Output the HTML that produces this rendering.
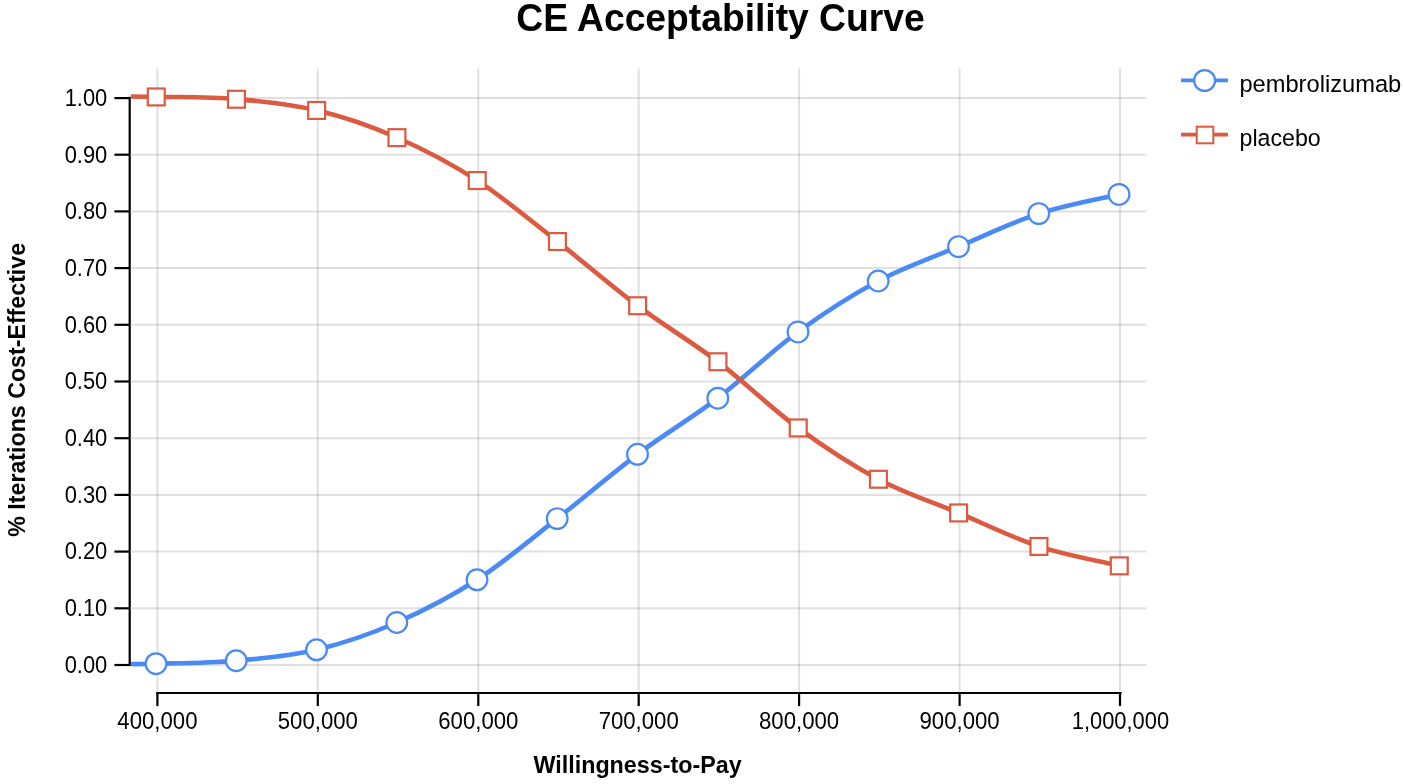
<!DOCTYPE html><html><head><meta charset="utf-8"><title>CE Acceptability Curve</title>
<style>html,body{margin:0;padding:0;background:#fff}svg{display:block}text{font-family:"Liberation Sans",Arial,sans-serif;fill:#000}.b{font-weight:bold}</style></head><body>
<svg width="1403" height="784" viewBox="0 0 1403 784">
<rect width="1403" height="784" fill="#fff"/>
<defs><clipPath id="c"><rect x="131" y="60" width="1020" height="640"/></clipPath></defs>
<g stroke="#000" stroke-opacity="0.12" stroke-width="2"><line x1="157.4" x2="157.4" y1="68.5" y2="691.5"/><line x1="317.8" x2="317.8" y1="68.5" y2="691.5"/><line x1="478.3" x2="478.3" y1="68.5" y2="691.5"/><line x1="638.7" x2="638.7" y1="68.5" y2="691.5"/><line x1="799.1" x2="799.1" y1="68.5" y2="691.5"/><line x1="959.6" x2="959.6" y1="68.5" y2="691.5"/><line x1="1120.0" x2="1120.0" y1="68.5" y2="691.5"/><line x1="131.8" x2="1146.3" y1="665.0" y2="665.0"/><line x1="131.8" x2="1146.3" y1="608.3" y2="608.3"/><line x1="131.8" x2="1146.3" y1="551.6" y2="551.6"/><line x1="131.8" x2="1146.3" y1="494.9" y2="494.9"/><line x1="131.8" x2="1146.3" y1="438.2" y2="438.2"/><line x1="131.8" x2="1146.3" y1="381.5" y2="381.5"/><line x1="131.8" x2="1146.3" y1="324.8" y2="324.8"/><line x1="131.8" x2="1146.3" y1="268.1" y2="268.1"/><line x1="131.8" x2="1146.3" y1="211.4" y2="211.4"/><line x1="131.8" x2="1146.3" y1="154.7" y2="154.7"/><line x1="131.8" x2="1146.3" y1="98.1" y2="98.1"/></g>
<g stroke="#000" stroke-width="2.2"><line x1="129.7" x2="129.7" y1="96.8" y2="666.1"/><line x1="114.4" x2="129.7" y1="665.0" y2="665.0"/><line x1="114.4" x2="129.7" y1="608.3" y2="608.3"/><line x1="114.4" x2="129.7" y1="551.6" y2="551.6"/><line x1="114.4" x2="129.7" y1="494.9" y2="494.9"/><line x1="114.4" x2="129.7" y1="438.2" y2="438.2"/><line x1="114.4" x2="129.7" y1="381.5" y2="381.5"/><line x1="114.4" x2="129.7" y1="324.8" y2="324.8"/><line x1="114.4" x2="129.7" y1="268.1" y2="268.1"/><line x1="114.4" x2="129.7" y1="211.4" y2="211.4"/><line x1="114.4" x2="129.7" y1="154.7" y2="154.7"/><line x1="114.4" x2="129.7" y1="98.1" y2="98.1"/><line x1="156.2" x2="1121.5" y1="693" y2="693"/><line x1="157.4" x2="157.4" y1="693" y2="706.1"/><line x1="317.8" x2="317.8" y1="693" y2="706.1"/><line x1="478.3" x2="478.3" y1="693" y2="706.1"/><line x1="638.7" x2="638.7" y1="693" y2="706.1"/><line x1="799.1" x2="799.1" y1="693" y2="706.1"/><line x1="959.6" x2="959.6" y1="693" y2="706.1"/><line x1="1120.0" x2="1120.0" y1="693" y2="706.1"/></g>
<g font-size="24.5"><text transform="translate(107.3,672.8) scale(0.895,1)" text-anchor="end">0.00</text><text transform="translate(107.3,616.1) scale(0.895,1)" text-anchor="end">0.10</text><text transform="translate(107.3,559.4) scale(0.895,1)" text-anchor="end">0.20</text><text transform="translate(107.3,502.7) scale(0.895,1)" text-anchor="end">0.30</text><text transform="translate(107.3,446.0) scale(0.895,1)" text-anchor="end">0.40</text><text transform="translate(107.3,389.3) scale(0.895,1)" text-anchor="end">0.50</text><text transform="translate(107.3,332.6) scale(0.895,1)" text-anchor="end">0.60</text><text transform="translate(107.3,275.9) scale(0.895,1)" text-anchor="end">0.70</text><text transform="translate(107.3,219.2) scale(0.895,1)" text-anchor="end">0.80</text><text transform="translate(107.3,162.5) scale(0.895,1)" text-anchor="end">0.90</text><text transform="translate(107.3,105.9) scale(0.895,1)" text-anchor="end">1.00</text><text transform="translate(157.4,729.4) scale(0.905,1)" text-anchor="middle">400,000</text><text transform="translate(317.8,729.4) scale(0.905,1)" text-anchor="middle">500,000</text><text transform="translate(478.3,729.4) scale(0.905,1)" text-anchor="middle">600,000</text><text transform="translate(638.7,729.4) scale(0.905,1)" text-anchor="middle">700,000</text><text transform="translate(799.1,729.4) scale(0.905,1)" text-anchor="middle">800,000</text><text transform="translate(959.6,729.4) scale(0.905,1)" text-anchor="middle">900,000</text><text transform="translate(1120.4,729.4) scale(0.893,1)" text-anchor="middle">1,000,000</text></g>
<g clip-path="url(#c)" fill="none" stroke-width="4.6" stroke-linejoin="round">
<path d="M76.0,664.6 C89.3,664.5 129.3,664.4 156.0,663.7 C182.7,663.1 209.5,663.0 236.2,660.7 C263.0,658.4 289.8,656.2 316.5,649.8 C343.2,643.4 370.0,634.2 396.8,622.5 C423.5,610.8 450.2,597.1 477.0,579.8 C503.8,562.5 530.5,539.5 557.2,518.6 C584.0,497.7 610.8,474.4 637.5,454.3 C664.2,434.2 691.0,418.6 717.8,398.2 C744.5,377.8 771.2,351.4 798.0,331.9 C824.8,312.4 851.5,295.2 878.2,281.0 C905.0,266.8 931.8,257.8 958.5,246.6 C985.2,235.4 1012.0,222.3 1038.8,213.6 C1065.5,204.9 1105.6,197.6 1119.0,194.4" stroke="#4a8af5"/>
<path d="M76.0,96.2 C89.3,96.3 129.3,96.3 156.1,96.8 C182.8,97.3 209.6,96.8 236.3,99.1 C263.1,101.3 289.8,103.9 316.6,110.3 C343.3,116.7 370.1,125.8 396.8,137.5 C423.6,149.2 450.3,163.1 477.1,180.4 C503.8,197.7 530.5,220.5 557.3,241.4 C584.0,262.3 610.8,285.6 637.5,305.7 C664.3,325.8 691.0,341.3 717.8,361.7 C744.5,382.1 771.3,408.3 798.0,427.9 C824.8,447.5 851.5,465.0 878.3,479.2 C905.0,493.4 931.8,501.7 958.5,512.9 C985.3,524.1 1012.0,537.6 1038.8,546.4 C1065.5,555.2 1105.7,562.5 1119.0,565.7" stroke="#db5a40"/>
</g>
<g fill="#fff" stroke="#4a8af5" stroke-width="2.2"><circle cx="156.0" cy="663.7" r="10.35"/><circle cx="236.2" cy="660.7" r="10.35"/><circle cx="316.5" cy="649.8" r="10.35"/><circle cx="396.8" cy="622.5" r="10.35"/><circle cx="477.0" cy="579.8" r="10.35"/><circle cx="557.2" cy="518.6" r="10.35"/><circle cx="637.5" cy="454.3" r="10.35"/><circle cx="717.8" cy="398.2" r="10.35"/><circle cx="798.0" cy="331.9" r="10.35"/><circle cx="878.2" cy="281.0" r="10.35"/><circle cx="958.5" cy="246.6" r="10.35"/><circle cx="1038.8" cy="213.6" r="10.35"/><circle cx="1119.0" cy="194.4" r="10.35"/></g>
<g fill="#fff" stroke="#db5a40" stroke-width="2.2"><rect x="147.8" y="88.5" width="16.9" height="16.9"/><rect x="228.0" y="90.8" width="16.9" height="16.9"/><rect x="308.2" y="102.0" width="16.9" height="16.9"/><rect x="388.5" y="129.2" width="16.9" height="16.9"/><rect x="468.8" y="172.1" width="16.9" height="16.9"/><rect x="549.0" y="233.1" width="16.9" height="16.9"/><rect x="629.2" y="297.3" width="16.9" height="16.9"/><rect x="709.5" y="353.3" width="16.9" height="16.9"/><rect x="789.8" y="419.5" width="16.9" height="16.9"/><rect x="870.0" y="470.8" width="16.9" height="16.9"/><rect x="950.2" y="504.5" width="16.9" height="16.9"/><rect x="1030.5" y="538.0" width="16.9" height="16.9"/><rect x="1110.8" y="557.4" width="16.9" height="16.9"/></g>
<line x1="1181" x2="1228" y1="80.4" y2="80.4" stroke="#4a8af5" stroke-width="3.9"/>
<circle cx="1204.6" cy="80.5" r="10.45" fill="#fff" stroke="#4a8af5" stroke-width="2.2"/>
<line x1="1181" x2="1228" y1="134.6" y2="134.6" stroke="#db5a40" stroke-width="3.9"/>
<rect x="1196.7" y="126.7" width="16.6" height="16.6" fill="#fff" stroke="#db5a40" stroke-width="2"/>
<text transform="translate(1239.4,92.1) scale(1.008,1)" font-size="23.5">pembrolizumab</text>
<text transform="translate(1239.5,145.8) scale(0.988,1)" font-size="23.5">placebo</text>
<text class="b" transform="translate(720.5,30.6) scale(0.98,1)" font-size="38" text-anchor="middle">CE Acceptability Curve</text>
<text class="b" x="637.6" y="772.8" font-size="23.3" text-anchor="middle">Willingness-to-Pay</text>
<text class="b" transform="translate(24.6,389.8) rotate(-90)" font-size="23.2" text-anchor="middle">% Iterations Cost-Effective</text>
</svg></body></html>
